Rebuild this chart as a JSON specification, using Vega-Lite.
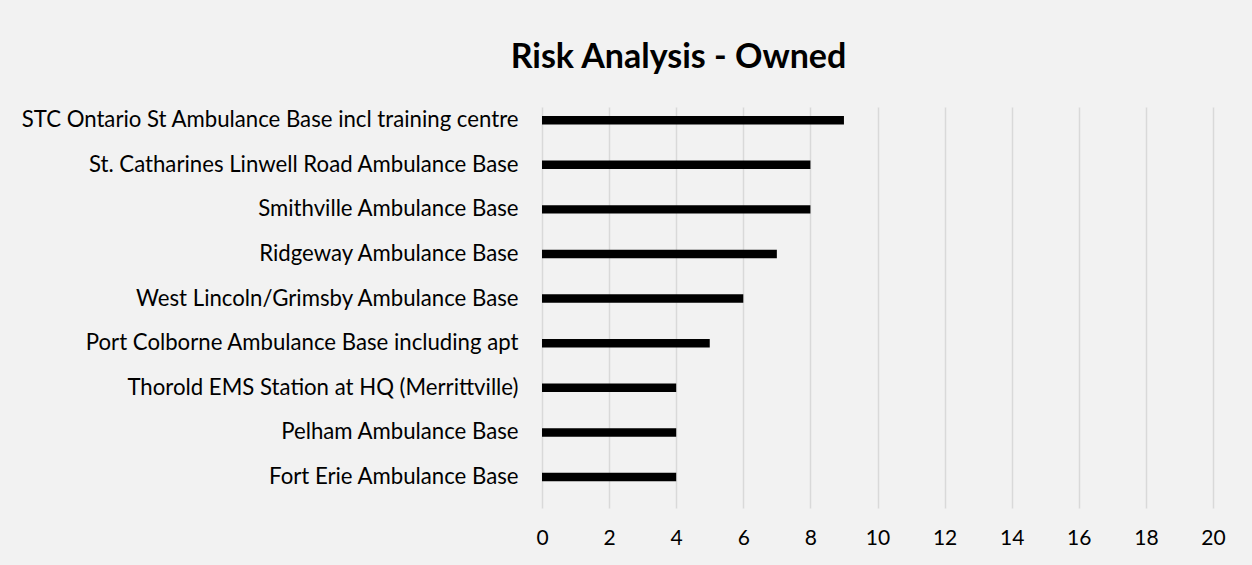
{
  "$schema": "https://vega.github.io/schema/vega-lite/v6.json",
  "width": 671,
  "height": 401,
  "autosize": "none",
  "padding": {"left": 542, "top": 107, "right": 39, "bottom": 57},
  "background": "#f2f2f2",
  "title": {
    "text": "Risk Analysis - Owned",
    "font": "Lato",
    "fontSize": 34,
    "fontWeight": "bold",
    "color": "#000000",
    "anchor": "middle",
    "frame": "group",
    "dx": -199,
    "baseline": "alphabetic",
    "offset": 5
  },
  "data": {
    "values": [
      {"base": "STC Ontario St Ambulance Base incl training centre", "score": 9},
      {"base": "St. Catharines Linwell Road Ambulance Base", "score": 8},
      {"base": "Smithville Ambulance Base", "score": 8},
      {"base": "Ridgeway Ambulance Base", "score": 7},
      {"base": "West Lincoln/Grimsby Ambulance Base", "score": 6},
      {"base": "Port Colborne Ambulance Base including apt", "score": 5},
      {"base": "Thorold EMS Station at HQ (Merrittville)", "score": 4},
      {"base": "Pelham Ambulance Base", "score": 4},
      {"base": "Fort Erie Ambulance Base", "score": 4}
    ]
  },
  "mark": {"type": "bar", "color": "#000000"},
  "encoding": {
    "y": {
      "field": "base",
      "type": "nominal",
      "sort": null,
      "scale": {"paddingInner": 0.81, "paddingOuter": 0.4, "align": 0.25},
      "axis": {
        "title": null,
        "domain": false,
        "ticks": false,
        "labelPadding": 24,
        "labelFont": "Lato",
        "labelFontSize": 22.2,
        "labelColor": "#000000",
        "labelLimit": 600
      }
    },
    "x": {
      "field": "score",
      "type": "quantitative",
      "scale": {"domain": [0, 20], "nice": false},
      "axis": {
        "title": null,
        "values": [0, 2, 4, 6, 8, 10, 12, 14, 16, 18, 20],
        "domain": false,
        "ticks": false,
        "grid": true,
        "gridColor": "#d9d9d9",
        "gridWidth": 1.5,
        "labelFlush": false,
        "labelPadding": 19,
        "labelFont": "Lato",
        "labelFontSize": 21,
        "labelColor": "#000000"
      }
    }
  },
  "config": {"view": {"stroke": null}}
}
